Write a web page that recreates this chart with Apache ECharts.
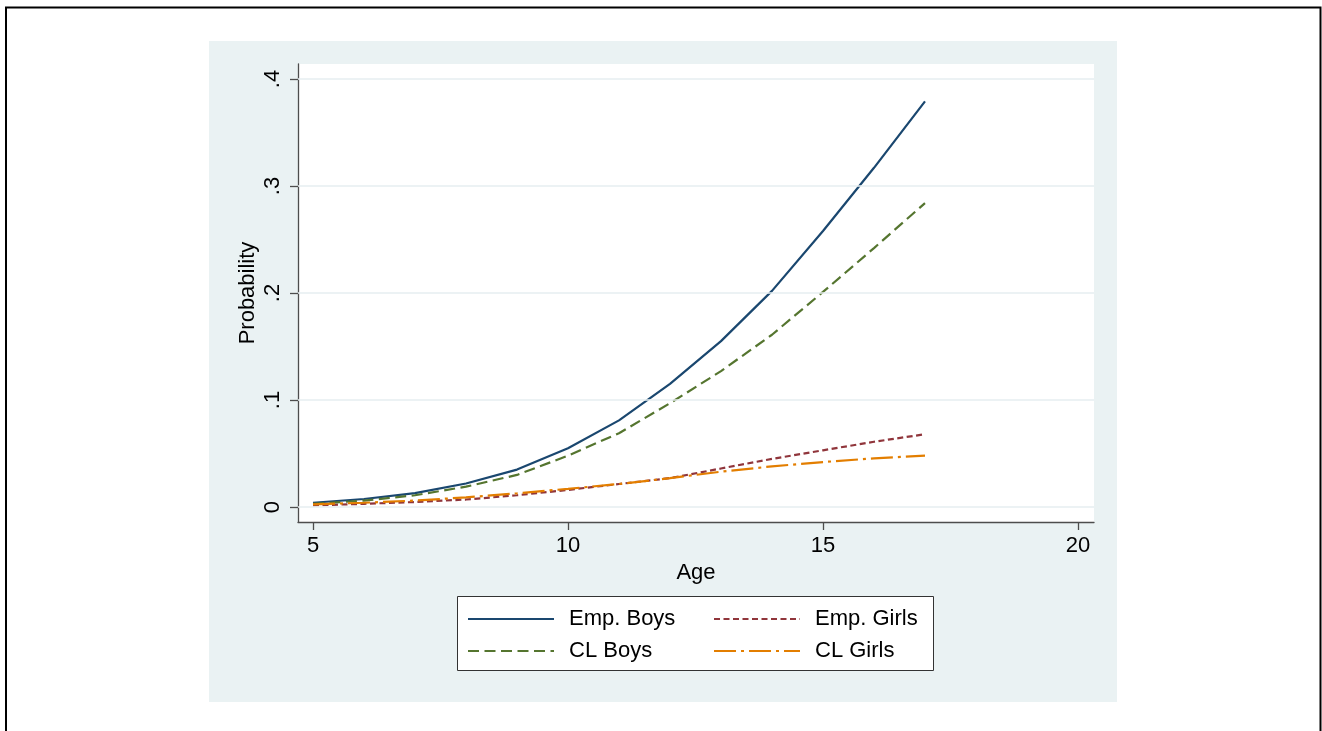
<!DOCTYPE html>
<html>
<head>
<meta charset="utf-8">
<script src="https://cdn.jsdelivr.net/npm/echarts@6/dist/echarts.min.js"></script>
<style>
html,body{margin:0;padding:0;background:#fff;}
#chart{width:1322px;height:731px;}
</style>
</head>
<body>
<div id="chart"></div>
<script>
// ---- data ----
const ages = [5, 6, 7, 8, 9, 10, 11, 12, 13, 14, 15, 16, 17];
const empBoys  = [0.004, 0.0075, 0.013, 0.022, 0.035, 0.055, 0.081, 0.115, 0.155, 0.202, 0.258, 0.317, 0.379];
const clBoys   = [0.003, 0.006, 0.011, 0.019, 0.030, 0.048, 0.069, 0.097, 0.127, 0.161, 0.201, 0.242, 0.284];
const empGirls = [0.0015, 0.003, 0.0047, 0.007, 0.011, 0.016, 0.0215, 0.027, 0.036, 0.045, 0.053, 0.061, 0.068];
const clGirls  = [0.0025, 0.004, 0.006, 0.009, 0.0128, 0.017, 0.0215, 0.027, 0.033, 0.038, 0.042, 0.0455, 0.048];
const xTicks = [5, 10, 15, 20];
const yTicks = [0, 0.1, 0.2, 0.3, 0.4];
const yTickLabels = ['0', '.1', '.2', '.3', '.4'];
const seriesNames = ['Emp. Boys', 'Emp. Girls', 'CL Boys', 'CL Girls'];

const FONT = "'Liberation Sans', Arial, sans-serif";
const pairs = arr => ages.map((a, i) => [a, arr[i]]);

const chart = echarts.init(document.getElementById('chart'), null, {renderer: 'canvas'});

function legendAt(name, left, top) {
  return {
    data: [name], left: left, top: top, padding: 0,
    itemWidth: 86, itemHeight: 14,
    itemStyle: {color: 'rgba(0,0,0,0)', borderWidth: 0, opacity: 0},
    textStyle: {fontFamily: FONT, fontSize: 22, color: '#000', padding: [0, 0, 0, 10]},
    selectedMode: false
  };
}

const option = {
  animation: false,
  backgroundColor: '#fff',
  graphic: [
    {type: 'rect', z: -100, shape: {x: 209, y: 41, width: 908, height: 661}, style: {fill: '#eaf2f3'}},
    {type: 'rect', z: -100, shape: {x: 6, y: 7.5, width: 1314.5, height: 800}, style: {fill: 'none', stroke: '#000', lineWidth: 2}},
    {type: 'rect', z: 1, shape: {x: 457.5, y: 596.5, width: 476, height: 74}, style: {fill: '#fff', stroke: '#333', lineWidth: 1}}
  ],
  grid: {
    left: 298, top: 64, width: 796, height: 458,
    show: true, backgroundColor: '#fff', borderWidth: 0
  },
  legend: [
    legendAt('Emp. Boys', 467, 608),
    legendAt('Emp. Girls', 713, 608),
    legendAt('CL Boys', 467, 640),
    legendAt('CL Girls', 713, 640)
  ],
  xAxis: {
    type: 'value', min: 4.706, max: 20.314,
    name: 'Age', nameLocation: 'middle', nameGap: 38,
    nameTextStyle: {fontFamily: FONT, fontSize: 22, color: '#000'},
    axisLine: {show: true, onZero: false, lineStyle: {color: '#4d4d4d', width: 1.3}},
    axisTick: {show: true, length: 8, customValues: xTicks, lineStyle: {color: '#4d4d4d', width: 1.3}},
    axisLabel: {customValues: xTicks, margin: 13, fontFamily: FONT, fontSize: 22, color: '#000'},
    splitLine: {show: false}
  },
  yAxis: {
    type: 'value', min: -0.014, max: 0.414,
    name: 'Probability', nameLocation: 'middle', nameGap: 39, nameMoveOverlap: false,
    nameTextStyle: {fontFamily: FONT, fontSize: 22, color: '#000'},
    axisLine: {show: true, onZero: false, lineStyle: {color: '#4d4d4d', width: 1.3}},
    axisTick: {show: true, length: 8, customValues: yTicks, lineStyle: {color: '#4d4d4d', width: 1.3}},
    axisLabel: {
      customValues: yTicks, rotate: 90, margin: 14,
      fontFamily: FONT, fontSize: 22, color: '#000',
      formatter: v => {
        const i = yTicks.findIndex(t => Math.abs(t - v) < 1e-9);
        return i >= 0 ? yTickLabels[i] : '';
      }
    },
    splitLine: {show: false}
  },
  series: [
    {
      name: '__grid', type: 'line', data: [], z: 1, silent: true,
      markLine: {
        silent: true, symbol: ['none', 'none'], label: {show: false},
        lineStyle: {color: '#e6eef0', width: 1.6, type: 'solid'},
        emphasis: {disabled: true},
        data: yTicks.map(v => ({yAxis: v}))
      }
    },
    {
      name: seriesNames[0], type: 'line', data: pairs(empBoys), z: 3,
      symbol: 'none', color: '#1a476f',
      lineStyle: {color: '#1a476f', width: 2.2, type: 'solid'}
    },
    {
      name: seriesNames[1], type: 'line', data: pairs(empGirls), z: 3,
      symbol: 'none', color: '#90353b',
      lineStyle: {color: '#90353b', width: 2.2, type: [6, 3.5]}
    },
    {
      name: seriesNames[2], type: 'line', data: pairs(clBoys), z: 3,
      symbol: 'none', color: '#55752f',
      lineStyle: {color: '#55752f', width: 2.2, type: [11, 5.5]}
    },
    {
      name: seriesNames[3], type: 'line', data: pairs(clGirls), z: 3,
      symbol: 'none', color: '#e37e00',
      lineStyle: {color: '#e37e00', width: 2.2, type: [22, 5, 3, 5]}
    }
  ]
};
chart.setOption(option);
</script>
</body>
</html>
